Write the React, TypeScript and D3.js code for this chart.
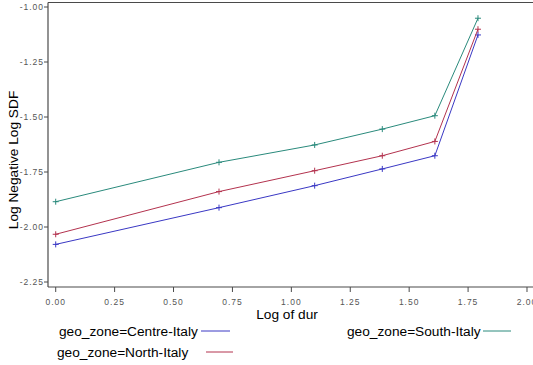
import React from 'react';
import * as d3 from 'd3';

// log of duration (ln 1..6)
const durLog = [0, 0.693, 1.099, 1.386, 1.609, 1.792];

const centreItaly = [-2.079, -1.912, -1.812, -1.736, -1.676, -1.127];
const northItaly = [-2.033, -1.839, -1.744, -1.676, -1.611, -1.101];
const southItaly = [-1.885, -1.706, -1.627, -1.555, -1.494, -1.051];

const xTicks = [0, 0.25, 0.5, 0.75, 1.0, 1.25, 1.5, 1.75, 2.0];
const yTicks = [-1.0, -1.25, -1.5, -1.75, -2.0, -2.25];

const seriesNames = ['Centre-Italy', 'North-Italy', 'South-Italy'];
const seriesColors = ['#3a38c4', '#b3324e', '#2a8a7c'];

const W = 533;
const H = 365;
const left = 48;
const top = 2.5;
const bottom = 287;

const App: React.FC = () => {
  const x = d3.scaleLinear().domain([-0.0327, 2.0255]).range([left, W]);
  const y = d3.scaleLinear().domain([-0.9795, -2.2727]).range([top, bottom]);

  const allSeries = [centreItaly, northItaly, southItaly];
  const line = d3
    .line<number>()
    .x((_, i) => x(durLog[i]))
    .y((d) => y(d));

  const axisColor = '#4a4a4a';
  const tickFont = { fontFamily: 'Liberation Sans, Arial, sans-serif', fontSize: 8.5, fill: '#555', letterSpacing: 1 };
  const bigFont = { fontFamily: 'Liberation Sans, Arial, sans-serif', fontSize: 13.7, fill: '#000' };

  return (
    <svg width={W} height={H} style={{ position: 'absolute', left: 0, top: 0, background: '#fff' }}>
      {/* frame */}
      <line x1={left} x2={W} y1={top} y2={top} stroke={axisColor} strokeWidth={1.2} />
      <line x1={left} x2={left} y1={top} y2={bottom} stroke={axisColor} strokeWidth={1.2} />
      <line x1={left} x2={W} y1={bottom} y2={bottom} stroke={axisColor} strokeWidth={1.2} />

      {/* y ticks */}
      {yTicks.map((t) => (
        <g key={t}>
          <line x1={left - 4} x2={left} y1={y(t)} y2={y(t)} stroke={axisColor} />
          <text x={left - 4} y={y(t)} dy="0.35em" textAnchor="end" style={tickFont}>
            {t.toFixed(2)}
          </text>
        </g>
      ))}

      {/* x ticks */}
      {xTicks.map((t) => (
        <g key={t}>
          <line x1={x(t)} x2={x(t)} y1={bottom} y2={bottom + 5} stroke={axisColor} />
          <text x={x(t)} y={bottom + 18} textAnchor="middle" style={tickFont}>
            {t.toFixed(2)}
          </text>
        </g>
      ))}

      {/* series */}
      {allSeries.map((s, si) => (
        <g key={seriesNames[si]}>
          <path d={line(s) || ''} fill="none" stroke={seriesColors[si]} strokeWidth={1} />
          {s.map((v, i) => (
            <path
              key={i}
              d={`M${x(durLog[i]) - 3},${y(v)}h6M${x(durLog[i])},${y(v) - 3}v6`}
              stroke={seriesColors[si]}
              strokeWidth={1}
            />
          ))}
        </g>
      ))}

      {/* axis titles */}
      <text transform="translate(18,160) rotate(-90)" textAnchor="middle" style={bigFont}>
        Log Negative Log SDF
      </text>
      <text x={287} y={319} textAnchor="middle" style={bigFont}>
        Log of dur
      </text>

      {/* legend */}
      <text x={59} y={336} style={bigFont}>geo_zone=Centre-Italy</text>
      <line x1={201} x2={230} y1={331} y2={331} stroke={seriesColors[0]} />
      <text x={57} y={357} style={bigFont}>geo_zone=North-Italy</text>
      <line x1={206} x2={233} y1={352} y2={352} stroke={seriesColors[1]} />
      <text x={347} y={336} style={bigFont}>geo_zone=South-Italy</text>
      <line x1={483} x2={511} y1={331} y2={331} stroke={seriesColors[2]} />
    </svg>
  );
};

export default App;
